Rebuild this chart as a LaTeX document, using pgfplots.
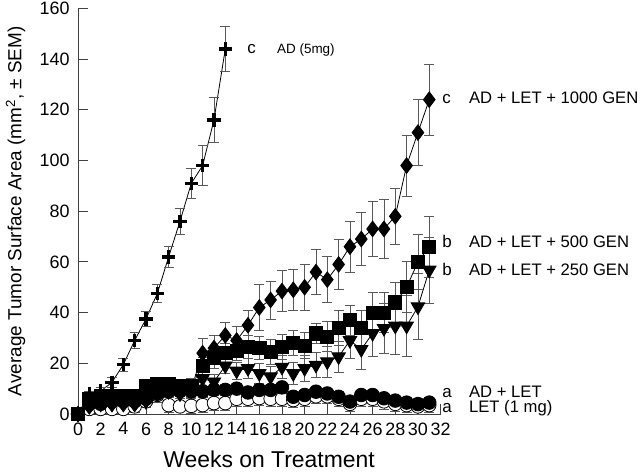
\documentclass[border=0pt]{standalone}
\usepackage{pgfplots}
\pgfplotsset{compat=1.18}
\usepackage{pgfplotstable}
\usepackage{fontspec}
\setmainfont{Liberation Sans}

% weeks, mean area, SEM
\pgfplotstableread{
x y e
0 0 0
1 8 1
2 9 1.5
3 12.5 2
4 19.5 2.5
5 29 3
6 37.5 3
7 47.5 3.5
8 62 4
9 76 5
10 91 6
11 98 8
12 116 9
13 144 9
}\adfive

\pgfplotstableread{
x y e
0 0 0
1 3 1
2 4 1
3 4 1
4 4 1
5 4 1.5
6 6 2
7 9 2
8 9 2
9 9 3
10 10 3
11 24 6
12 26 5
13 31 5
14 29 5.5
15 35 6
16 42 9
17 45 7.5
18 48.5 8
19 49 8
20 50 9
21 56 9
22 53 9
23 59 10
24 66 10
25 69 10.5
26 73 11
27 73 11.5
28 78 11
29 98 12
30 111 13
31 124 14
}\genthousand

\pgfplotstableread{
x y e
0 0 0
1 6 1.5
2 7 1.5
3 7 1.5
4 7 1.5
5 7 2
6 11 2
7 12 2
8 12 2.5
9 11 2.5
10 11 3
11 19 3.5
12 22 4
13 24 4
14 25 4
15 26.5 4.5
16 26 4.5
17 24.6 5
18 26.5 5
19 28 5
20 27 5
21 31.8 4
22 30.5 6
23 34 7
24 37 6
25 34 7
26 40 8
27 40 8
28 44 8
29 50 10
30 60 11
31 66 12
}\genfivehundred

\pgfplotstableread{
x y e
0 0 0
1 4 1
2 4 1
3 4 1
4 4 1
5 4 1.5
6 5 1.5
7 8 2
8 9 2
9 8 2
10 9 2.5
11 14 3
12 12.7 3
13 19 3
14 17 3.5
15 18 4
16 16 4
17 14.7 4
18 18.5 4.5
19 16 4.5
20 18 5
21 19.3 5
22 20.6 6
23 22.6 6
24 29 7
25 25.5 8
26 31.8 9
27 33.8 10
28 34.7 11
29 34.7 12
30 42.3 13
31 56.8 13
}\gentwofifty

\pgfplotstableread{
x y e
0 0 0
1 4 1.5
2 4 1.5
3 5 1.5
4 5 1.5
5 5 1.5
6 6 2
7 8 2
8 9 2
9 9 2
10 9 2
11 9 2
12 9.5 2
13 9.5 2
14 10 2
15 8.5 2
16 9.5 2
17 9.5 2
18 10.5 2
19 6.8 2
20 7.5 2
21 8.8 2
22 8.1 2
23 6.8 2
24 4.9 2
25 7.5 2
26 7.5 2
27 6.2 2
28 5.3 2
29 4.5 2
30 3.9 2
31 4.5 2
}\adlet

\pgfplotstableread{
x y e
0 0 0
1 2 2
2 2 2
3 2 2
4 2 2
5 3 2.5
6 5 2.5
7 7.5 3
8 3.5 3
9 3 3
10 3.2 3
11 3.5 3
12 4.3 3
13 4.3 3
14 6 3
15 6 3
16 6.3 3
17 6 3
18 6 3
19 5.5 3
20 6 3
21 7 3
22 7 3
23 6 3
24 4 3
25 6 3
26 6 3
27 5 3
28 4 3
29 3.5 3
30 3 3
31 3.5 3
}\letonly

\begin{document}
\begin{tikzpicture}
\begin{axis}[
    width=362.6bp, height=405.6bp, scale only axis,
    xmin=0, xmax=32, ymin=0, ymax=160,
    axis x line*=bottom, axis y line*=left,
    axis line style={black!75, line width=0.9bp},
    tick align=inside, major tick length=10bp,
    tick style={black!75, line width=0.9bp},
    xtick={0,2,...,32}, ytick={0,20,...,160},
    tick label style={font=\fontsize{18}{18}\selectfont},
    xticklabel style={yshift=-5bp},
    yticklabel style={xshift=-5bp},
    /pgf/number format/assume math mode=true,
    clip=false,
    xlabel={Weeks on Treatment},
    ylabel={Average Tumor Surface Area (mm\textsuperscript{2}, ± SEM)},
    xlabel style={font=\fontsize{23}{23}\selectfont, at={(axis description cs:0.527,-0.133)}, anchor=base},
    ylabel style={font=\fontsize{19}{19}\selectfont, at={(axis description cs:-0.172,0.5)}, anchor=center},
    every axis plot/.append style={black, line width=0.8bp},
    error bars/y dir=both, error bars/y explicit,
    error bars/error bar style={black!65, line width=0.8bp},
    error bars/error mark options={black!65, rotate=90, mark size=5bp, line width=0.8bp},
]
\coordinate (O) at (axis cs:0,0);
% LET (1 mg)
\addplot[black, mark=*, mark size=6.8bp, mark options={fill=white, draw=black, line width=0.8bp}]
    table[x=x, y=y, y error=e] {\letonly};
% AD + LET
\addplot[black, mark=*, mark size=6.8bp, mark options={fill=black}]
    table[x=x, y=y, y error=e] {\adlet};
% AD + LET + 250 GEN
\addplot[black, mark=triangle*, mark size=7.8bp, mark options={rotate=180, fill=black}]
    table[x=x, y=y, y error=e] {\gentwofifty};
% AD + LET + 1000 GEN
\addplot[black, mark=diamond*, mark size=7.8bp, mark options={fill=black}]
    table[x=x, y=y, y error=e] {\genthousand};
% AD (5mg)
\addplot[black, mark=+, mark size=6.8bp, mark options={line width=3.4bp}]
    table[x=x, y=y, y error=e] {\adfive};
% AD + LET + 500 GEN
\addplot[black, mark=square*, mark size=6.6bp, mark options={fill=black}]
    table[x=x, y=y, y error=e] {\genfivehundred};

\begin{scope}[every node/.style={inner sep=0pt, anchor=base west}]
\node at (axis cs:14.92,142.4) {\fontsize{17}{17}\selectfont c};
\node at (axis cs:17.56,142.4) {\fontsize{13.5}{13.5}\selectfont AD (5mg)};
\node at (axis cs:32.13,122.5) {\fontsize{17}{17}\selectfont c};
\node at (axis cs:34.5,122.5) {\fontsize{16.7}{16.7}\selectfont AD + LET + 1000 GEN};
\node at (axis cs:32.13,65.5) {\fontsize{17}{17}\selectfont b};
\node at (axis cs:34.5,65.5) {\fontsize{16.7}{16.7}\selectfont AD + LET + 500 GEN};
\node at (axis cs:32.13,54.8) {\fontsize{17}{17}\selectfont b};
\node at (axis cs:34.5,54.8) {\fontsize{16.7}{16.7}\selectfont AD + LET + 250 GEN};
\node at (axis cs:32.13,6.7) {\fontsize{17}{17}\selectfont a};
\node at (axis cs:34.5,6.7) {\fontsize{16.7}{16.7}\selectfont AD + LET};
\node at (axis cs:32.13,0.4) {\fontsize{17}{17}\selectfont a};
\node at (axis cs:34.5,0.4) {\fontsize{16.7}{16.7}\selectfont LET (1 mg)};
\end{scope}
\end{axis}
\pgfresetboundingbox
\path[use as bounding box] ([shift={(-78bp,-61bp)}]O) rectangle ++(640bp,475bp);
\end{tikzpicture}
\end{document}
